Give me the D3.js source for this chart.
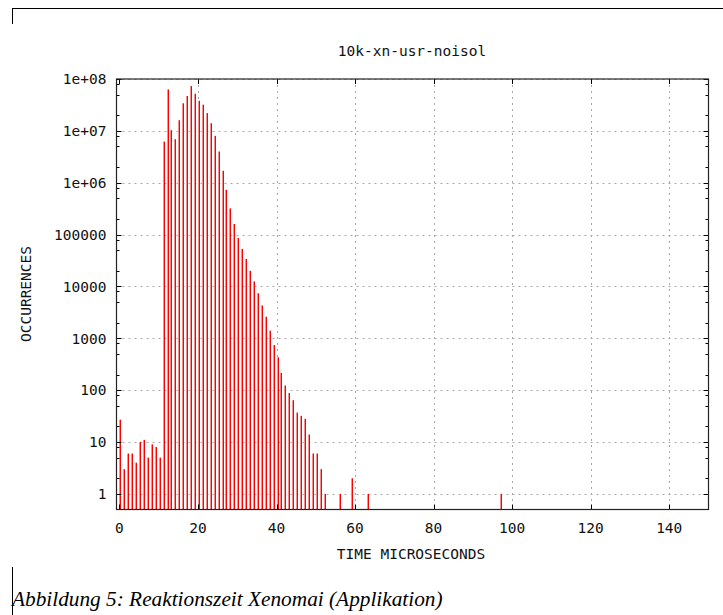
<!DOCTYPE html>
<html>
<head>
<meta charset="utf-8">
<script src="https://cdn.jsdelivr.net/npm/d3@7"></script>
<style>
  html, body { margin: 0; padding: 0; background: #fff; }
  svg { display: block; }
  .mono { font-family: "DejaVu Sans Mono", monospace; font-size: 14.5px; fill: #111; }
</style>
</head>
<body>
<svg id="chart" width="723" height="615"></svg>
<script>
// ---- data ----
const times = [0,1,2,3,4,5,6,7,8,9,10,11,12,13,14,15,16,17,18,19,20,21,22,23,24,25,26,27,28,29,30,31,32,33,34,35,36,37,38,39,40,41,42,43,44,45,46,47,48,49,50,51,52,56,59,63,97];
const occurrences = [27,3,6,6,4,10,11,5,9,8,5,6.2e6,6.3e7,1.03e7,6.9e6,1.6e7,3.4e7,4.7e7,7.3e7,5.2e7,3.8e7,3.2e7,2.2e7,1.4e7,8e6,4e6,1.7e6,7.3e5,3.2e5,1.6e5,8.6e4,5.3e4,3.4e4,2.0e4,1.25e4,7.4e3,4.3e3,2.6e3,1.4e3,740,430,215,123,88,64,37,32,28,14,6,6,3,1,1,2,1,1];
const xTicks = [0,20,40,60,80,100,120,140];
const yTicks = [1,10,100,1000,10000,100000,1e6,1e7,1e8];
const yTickLabels = ["1","10","100","1000","10000","100000","1e+06","1e+07","1e+08"];
const minorMults = [2,5,8];
const chartTitle = "10k-xn-usr-noisol";
const xLabel = "TIME MICROSECONDS";
const yLabel = "OCCURRENCES";
const caption = "Abbildung 5: Reaktionszeit Xenomai (Applikation)";

const svg = d3.select("#chart");
const L = 116.5, R = 708.5, T = 79, B = 509.5;

const x = d3.scaleLinear().domain([-0.75, 150]).range([L, R]);
const y = d3.scaleLog().domain([0.5, 1e8]).range([B, T]);

// page frame lines
svg.append("line").attr("x1", 12).attr("x2", 723).attr("y1", 8.5).attr("y2", 8.5).attr("stroke", "#000");
svg.append("line").attr("x1", 12.5).attr("x2", 12.5).attr("y1", 8).attr("y2", 24).attr("stroke", "#000");
svg.append("line").attr("x1", 12.5).attr("x2", 12.5).attr("y1", 567).attr("y2", 615).attr("stroke", "#000");

// grid
const grid = svg.append("g").attr("stroke", "#a8a8a8").attr("stroke-dasharray", "2,4").attr("stroke-width", 1);
xTicks.filter(d => d > 0).forEach(d => {
  grid.append("line").attr("x1", Math.round(x(d)) + 0.5).attr("x2", Math.round(x(d)) + 0.5).attr("y1", T).attr("y2", B);
});
yTicks.forEach(d => {
  grid.append("line").attr("x1", L).attr("x2", R).attr("y1", Math.round(y(d)) + 0.5).attr("y2", Math.round(y(d)) + 0.5);
});

// bars (impulses)
const bars = svg.append("g");
times.forEach((t, i) => {
  const cx = Math.round(x(t));
  const top = y(occurrences[i]);
  bars.append("rect").attr("x", cx).attr("width", 1).attr("y", top).attr("height", B - top).attr("fill", "#ff8a8a");
  bars.append("rect").attr("x", cx + 1).attr("width", 1).attr("y", top).attr("height", B - top).attr("fill", "#ff0000");
});

// ticks
const ticks = svg.append("g").attr("stroke", "#000").attr("stroke-width", 1);
yTicks.forEach(d => {
  const yy = Math.round(y(d)) + 0.5;
  ticks.append("line").attr("x1", L).attr("x2", L + 5).attr("y1", yy).attr("y2", yy);
  ticks.append("line").attr("x1", R - 5).attr("x2", R).attr("y1", yy).attr("y2", yy);
  if (d < 1e8) {
    minorMults.forEach(m => {
      const ym = Math.round(y(d * m)) + 0.5;
      ticks.append("line").attr("x1", L).attr("x2", L + 3).attr("y1", ym).attr("y2", ym);
      ticks.append("line").attr("x1", R - 3).attr("x2", R).attr("y1", ym).attr("y2", ym);
    });
  }
});
xTicks.forEach(d => {
  const xx = Math.round(x(d)) + 0.5;
  ticks.append("line").attr("x1", xx).attr("x2", xx).attr("y1", B).attr("y2", B - 5);
  ticks.append("line").attr("x1", xx).attr("x2", xx).attr("y1", T).attr("y2", T + 5);
});

// border
svg.append("rect").attr("x", L).attr("y", T).attr("width", R - L).attr("height", B - T)
  .attr("fill", "none").attr("stroke", "#222").attr("stroke-width", 1.2);

// tick labels
svg.append("g").selectAll("text").data(yTicks).join("text")
  .attr("class", "mono").attr("x", 106.5).attr("y", d => y(d)).attr("dy", "0.36em")
  .attr("text-anchor", "end").text((d, i) => yTickLabels[i]);
svg.append("g").selectAll("text").data(xTicks).join("text")
  .attr("class", "mono").attr("x", d => x(d)).attr("y", 532.5)
  .attr("text-anchor", "middle").text(d => d);

// titles
svg.append("text").attr("class", "mono").attr("x", 412).attr("y", 56).attr("text-anchor", "middle").text(chartTitle);
svg.append("text").attr("class", "mono").attr("x", 411).attr("y", 559).attr("text-anchor", "middle").text(xLabel);
svg.append("text").attr("class", "mono").attr("transform", "translate(31,294) rotate(-90)").attr("text-anchor", "middle").text(yLabel);

// caption
svg.append("text").attr("x", 12).attr("y", 606)
  .style("font-family", "'Liberation Serif', 'Times New Roman', serif").style("font-style", "italic").style("font-size", "21.3px")
  .text(caption);
</script>
</body>
</html>
